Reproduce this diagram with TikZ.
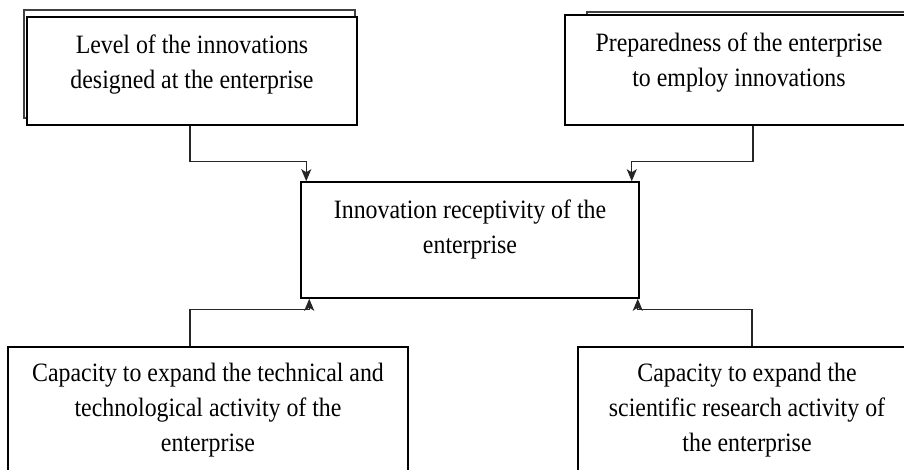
\documentclass[tikz,border=0pt]{standalone}
\usepackage{fontspec}
\setmainfont{Liberation Serif}[FakeStretch=0.9]
\usetikzlibrary{arrows.meta}
\tikzstyle{factor}=[fill=white, draw=black, line width=1.5pt, shape=rectangle, inner sep=0pt]
\tikzstyle{backing}=[draw=black!75, line width=1.3pt]
\tikzstyle{words}=[align=center, inner sep=0pt, anchor=north, font=\fontsize{26.5}{35}\selectfont]
\tikzstyle{ed}=[draw=black!85, line width=1.4pt, -{Stealth[length=12pt, width=10pt, inset=3pt]}]

\begin{document}
\begin{tikzpicture}[x=1pt, y=-1pt]
	\useasboundingbox (0,0) rectangle (904,470);
	\clip (0,0) rectangle (904,470);
	\draw [style=backing] (24,10) rectangle (355,118);
	\draw [style=backing] (587,12) rectangle (930,120);
	\node [style=factor, minimum width=330pt, minimum height=108pt] (0) at (192,71) {};
	\node [style=factor, minimum width=348pt, minimum height=110pt] (1) at (739,70) {};
	\node [style=factor, minimum width=338pt, minimum height=116pt] (2) at (470,240) {};
	\node [style=factor, minimum width=400pt, minimum height=143pt] (3) at (208,418.5) {};
	\node [style=factor, minimum width=338pt, minimum height=143pt] (4) at (747,418.5) {};
	\node [style=words] (5) at ([yshift=-12.5pt]0.north) {\strut Level of the innovations\\designed at the enterprise};
	\node [style=words] (6) at ([yshift=-12.5pt]1.north) {\strut Preparedness of the enterprise\\to employ innovations};
	\node [style=words] (7) at ([yshift=-12.5pt]2.north) {\strut Innovation receptivity of the\\enterprise};
	\node [style=words] (8) at ([yshift=-11pt]3.north) {\strut Capacity to expand the technical and\\technological activity of the\\enterprise};
	\node [style=words] (9) at ([yshift=-11pt]4.north) {\strut Capacity to expand the\\scientific research activity of\\the enterprise};
	\draw [style=ed] ([xshift=-2pt]0.south) -- ++(0,36) -| ([xshift=6pt]2.north west);
	\draw [style=ed] ([xshift=14pt]1.south) -- ++(0,36) -| ([xshift=-8pt]2.north east);
	\draw [style=ed] ([xshift=-18pt]3.north) -- ++(0,-37) -| ([xshift=9pt]2.south west);
	\draw [style=ed] ([xshift=5pt]4.north) -- ++(0,-37) -| ([xshift=-2pt]2.south east);
\end{tikzpicture}
\end{document}
